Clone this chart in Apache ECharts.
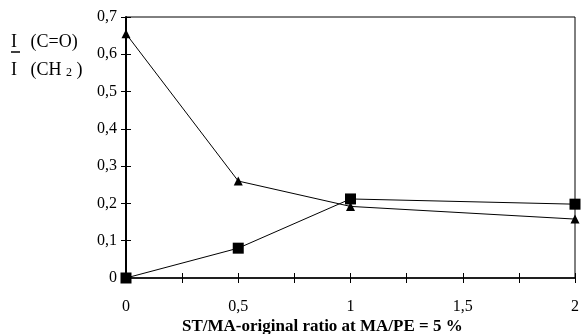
<!DOCTYPE html>
<html lang="en">
<head>
	<meta charset="UTF-8">
	<title>Document</title>
	<script src="https://cdn.jsdelivr.net/npm/echarts@6/dist/echarts.min.js"></script>
	<style>
		html,body{height:100%;margin:0;background:#fff;}
	</style>
</head>
<body>
	<div id="chart" style="width:582px; height:334px;"></div>
	<script>
	// data
	var ratio = [0, 0.5, 1, 2];
	var triangleVals = [0.655, 0.26, 0.192, 0.158];
	var squareVals = [0, 0.08, 0.212, 0.198];
	var xTicks = [0, 0.5, 1, 1.5, 2];

	function pairs(xs, ys){
		var out = [];
		for (var i = 0; i < xs.length; i++) { out.push([xs[i], ys[i]]); }
		return out;
	}
	function comma(v){ return String(v).replace('.', ','); }

	var font = 'Liberation Serif';
	var myChart = echarts.init(document.getElementById('chart'));

	var option = {
		animation: false,
		grid: { left: 126, right: 5, top: 17, bottom: 56, show: true, borderColor: '#000', borderWidth: 1 },
		xAxis: [{
			type: 'value', min: 0, max: 2, interval: 0.25,
			axisLine: { lineStyle: { color: '#000', width: 1.5 } },
			axisTick: { length: 5, lineStyle: { color: '#000' } },
			splitLine: { show: false },
			axisLabel: {
				color: '#000', fontFamily: font, fontSize: 16, margin: 21,
				formatter: function(v){ return xTicks.indexOf(v) >= 0 ? comma(v) : ''; }
			}
		}, {
			type: 'value', min: 0, max: 2, interval: 0.25, position: 'bottom',
			axisLine: { show: false },
			axisTick: { inside: true, length: 5, lineStyle: { color: '#000' } },
			axisLabel: { show: false }, splitLine: { show: false }
		}],
		yAxis: [{
			type: 'value', min: 0, max: 0.7, interval: 0.1,
			axisLine: { show: true, lineStyle: { color: '#000', width: 2 } },
			axisTick: { length: 5, lineStyle: { color: '#000' } },
			splitLine: { show: false },
			axisLabel: { color: '#000', fontFamily: font, fontSize: 16, margin: 9,
				formatter: function(v){ return comma(Math.round(v*10)/10); } }
		}, {
			type: 'value', min: 0, max: 0.7, interval: 0.1, position: 'left',
			axisLine: { show: false },
			axisTick: { inside: true, length: 5, lineStyle: { color: '#000' } },
			axisLabel: { show: false }, splitLine: { show: false }
		}],
		graphic: [
			{ type: 'text', left: 11, top: 33, style: { text: 'I   (C=O)', font: '18px "Liberation Serif"', fill: '#000' } },
			{ type: 'line', shape: { x1: 11, y1: 52, x2: 20, y2: 52 }, style: { stroke: '#000', lineWidth: 1.5 } },
			{ type: 'text', left: 11, top: 61, style: {
				text: '{a|I   (CH }{s|2}{a| )}',
				rich: {
					a: { font: '18px "Liberation Serif"', fill: '#000' },
					s: { font: '12px "Liberation Serif"', fill: '#000', padding: [5, 0, 0, 0] }
				}
			} },
			{ type: 'text', left: 182, top: 318, style: { text: 'ST/MA-original ratio at MA/PE = 5 %', font: 'bold 17px "Liberation Serif"', fill: '#000' } }
		],
		series: [{
			type: 'line', data: pairs(ratio, triangleVals),
			symbol: 'triangle', symbolSize: 9, showAllSymbol: true,
			lineStyle: { color: '#000', width: 1 }, itemStyle: { color: '#000' }
		}, {
			type: 'line', data: pairs(ratio, squareVals),
			symbol: 'rect', symbolSize: 11, showAllSymbol: true,
			lineStyle: { color: '#000', width: 1 }, itemStyle: { color: '#000' }
		}]
	};
	myChart.setOption(option);
	</script>
</body>
</html>
